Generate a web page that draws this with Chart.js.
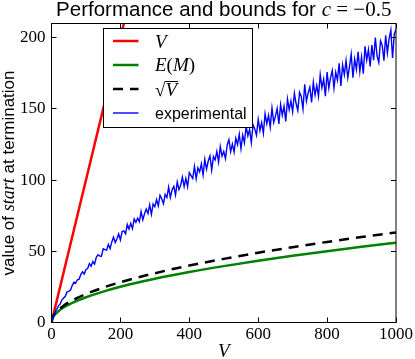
<!DOCTYPE html>
<html><head><meta charset="utf-8">
<script src="https://cdn.jsdelivr.net/npm/chart.js@4"></script>
<style>html,body{margin:0;padding:0;background:#fff}canvas{display:block}</style>
</head><body>
<canvas id="c" width="415" height="359"></canvas>
<script>
// ---- data ----
const xTicks = [0, 200, 400, 600, 800, 1000];
const yTicks = [0, 50, 100, 150, 200];
const seriesLabels = ["V", "E(M)", "√V", "experimental"];

const vX = [0, 1000];
const vY = [0, 1000];

const emX = [0, 2, 5, 10, 20, 35, 50, 75, 100, 150, 200, 300, 400, 500, 600, 700, 800, 900, 1000];
const emY = [0, 2.5, 4.0, 5.6, 7.9, 10.5, 12.5, 15.3, 17.7, 21.7, 25.1, 30.7, 35.4, 39.6, 43.4, 46.9, 50.1, 53.2, 56.0];

const sqX = [0, 2, 5, 10, 20, 35, 50, 75, 100, 150, 200, 300, 400, 500, 600, 700, 800, 900, 1000];
const sqY = [0, 2.8, 4.5, 6.3, 8.9, 11.8, 14.1, 17.3, 20.0, 24.5, 28.3, 34.6, 40.0, 44.7, 49.0, 52.9, 56.6, 60.0, 63.2];

const expX = [0,5,10,15,20,25,30,35,40,45,50,55,60,65,70,75,80,85,90,95,
100,105,110,115,120,125,130,135,140,145,150,155,160,165,170,175,180,185,190,195,
200,205,210,215,220,225,230,235,240,245,250,255,260,265,270,275,280,285,290,295,
300,305,310,315,320,325,330,335,340,345,350,355,360,365,370,375,380,385,390,395,
400,405,410,415,420,425,430,435,440,445,450,455,460,465,470,475,480,485,490,495,
500,505,510,515,520,525,530,535,540,545,550,555,560,565,570,575,580,585,590,595,
600,605,610,615,620,625,630,635,640,645,650,655,660,665,670,675,680,685,690,695,
700,705,710,715,720,725,730,735,740,745,750,755,760,765,770,775,780,785,790,795,
800,805,810,815,820,825,830,835,840,845,850,855,860,865,870,875,880,885,890,895,
900,905,910,915,920,925,930,935,940,945,950,955,960,965,970,975,980,985,990,995,1000];
const expY = [0, 4.0, 7.1, 9.1, 11.7, 12.9, 15.8, 17.2, 18.4, 21.5,
21.9, 22.7, 25.9, 28.3, 27.7, 30.0, 30.3, 33.7, 35.6, 34.0,
37.3, 37.9, 41.4, 39.5, 42.8, 41.0, 45.8, 47.6, 46.6, 46.5,
51.8, 51.2, 50.8, 54.9, 51.8, 56.6, 59.9, 56.2, 58.8, 62.3,
58.0, 63.9, 64.3, 62.3, 68.9, 65.7, 69.7, 65.9, 72.7, 70.4,
73.2, 70.7, 77.9, 72.1, 76.4, 79.7, 76.6, 82.7, 76.0, 83.3,
81.3, 86.3, 81.9, 89.4, 86.9, 83.4, 90.0, 87.8, 95.1, 87.8,
93.2, 95.6, 89.5, 98.7, 93.5, 96.4, 102.1, 95.5, 101.2, 95.4,
105.2, 103.2, 101.2, 109.6, 101.0, 108.6, 105.7, 111.4, 103.6, 114.6,
107.6, 113.4, 117.0, 107.0, 116.5, 114.2, 120.2, 112.7, 123.5, 116.8,
120.1, 115.1, 124.7, 128.4, 120.0, 125.3, 119.7, 129.5, 124.9, 132.3,
122.0, 131.6, 126.2, 138.0, 131.0, 135.6, 126.3, 138.9, 136.0, 131.5,
142.6, 134.7, 140.4, 132.9, 146.6, 139.6, 145.5, 137.2, 150.6, 140.5,
144.8, 150.3, 139.4, 153.1, 145.6, 151.8, 141.2, 157.0, 149.4, 155.6,
147.9, 161.0, 153.8, 149.0, 161.6, 158.7, 150.0, 167.3, 155.4, 161.3,
165.3, 154.5, 168.8, 159.8, 166.5, 158.7, 174.0, 164.9, 170.9, 159.0,
175.9, 164.6, 172.0, 177.0, 164.6, 175.7, 170.3, 182.1, 166.2, 180.9,
174.0, 183.9, 171.9, 179.7, 188.4, 171.9, 184.9, 177.7, 190.1, 176.2,
186.5, 174.7, 194.0, 184.3, 191.7, 179.8, 194.8, 184.2, 200.1, 187.2,
182.6, 197.8, 194.8, 183.9, 201.7, 189.2, 199.3, 205.5, 185.8, 202.3,
206.0];

// ---- styling ----
const SANS = '"Liberation Sans", Arial, Helvetica, sans-serif';
const SERIF = '"Liberation Serif", "Times New Roman", serif';

function pts(xs, ys) { return xs.map((x, i) => ({ x: x, y: ys[i] })); }

function drawRuns(ctx, runs, x, y, align) {
  let total = 0;
  runs.forEach(r => { ctx.font = r.f; r.w = ctx.measureText(r.t).width; total += r.w; });
  let cx = align === 'center' ? x - total / 2 : x;
  runs.forEach(r => { ctx.font = r.f; r.x = cx; ctx.fillText(r.t, cx, y); cx += r.w; });
  return runs;
}

const decor = {
  id: 'decor',
  afterDatasetsDraw(chart) {
    const ctx = chart.ctx;
    const a = chart.chartArea;
    const sx = chart.scales.x, sy = chart.scales.y;
    ctx.save();
    // frame
    ctx.strokeStyle = '#000';
    ctx.lineWidth = 1;
    ctx.strokeRect(a.left, a.top, a.right - a.left, a.bottom - a.top);
    // inward ticks on all sides
    const TL = 5;
    ctx.beginPath();
    xTicks.forEach(v => {
      const p = Math.round(sx.getPixelForValue(v) - 0.5) + 0.5;
      ctx.moveTo(p, a.bottom); ctx.lineTo(p, a.bottom - TL);
      ctx.moveTo(p, a.top); ctx.lineTo(p, a.top + TL);
    });
    yTicks.forEach(v => {
      const p = Math.round(sy.getPixelForValue(v) - 0.5) + 0.5;
      ctx.moveTo(a.left, p); ctx.lineTo(a.left + TL, p);
      ctx.moveTo(a.right, p); ctx.lineTo(a.right - TL, p);
    });
    ctx.stroke();

    // legend
    const lx = 103.5, ly = 28.5, lw = 149, lh = 99;
    ctx.fillStyle = '#fff';
    ctx.fillRect(lx, ly, lw, lh);
    ctx.strokeStyle = '#000';
    ctx.lineWidth = 1;
    ctx.strokeRect(lx, ly, lw, lh);
    const rowY = [41, 65, 89, 113];
    chart.data.datasets.forEach((ds, i) => {
      const y = rowY[i];
      ctx.save();
      ctx.strokeStyle = ds.borderColor;
      ctx.lineWidth = Math.min(ds.borderWidth, 2.5);
      ctx.setLineDash(ds.borderDash || []);
      ctx.beginPath();
      ctx.moveTo(113, y); ctx.lineTo(138.5, y);
      ctx.stroke();
      ctx.restore();
      ctx.fillStyle = '#000';
      ctx.strokeStyle = '#000';
      ctx.textBaseline = 'alphabetic';
      const it = 'italic 19px ' + SERIF, rm = '19px ' + SERIF;
      const lab = ds.label;
      if (lab === 'V') {
        drawRuns(ctx, [{ t: 'V', f: it }], 155, y + 6.5, 'left');
      } else if (lab === 'E(M)') {
        drawRuns(ctx, [{ t: 'E', f: it }, { t: '(', f: rm }, { t: 'M', f: it }, { t: ')', f: rm }], 155, y + 6, 'left');
      } else if (lab === '√V') {
        const r = drawRuns(ctx, [{ t: '√', f: rm }, { t: 'V', f: it }], 155, y + 7, 'left');
        ctx.beginPath();
        ctx.lineWidth = 1;
        ctx.moveTo(r[1].x - 0.5, y - 7.5); ctx.lineTo(r[1].x + r[1].w + 1, y - 7.5);
        ctx.stroke();
      } else {
        drawRuns(ctx, [{ t: lab, f: '16px ' + SANS }], 155, y + 5.5, 'left');
      }
    });

    // title
    ctx.fillStyle = '#000';
    ctx.textBaseline = 'alphabetic';
    const cx = (a.left + a.right) / 2;
    drawRuns(ctx, [
      { t: 'Performance and bounds for ', f: '20.5px ' + SANS },
      { t: 'c', f: 'italic 21px ' + SERIF },
      { t: ' = −0.5', f: '21px ' + SERIF }
    ], cx, 16, 'center');

    // x label
    drawRuns(ctx, [{ t: 'V', f: 'italic 19px ' + SERIF }], cx, 357, 'center');

    // y label
    ctx.save();
    ctx.translate(14, (a.top + a.bottom) / 2);
    ctx.rotate(-Math.PI / 2);
    drawRuns(ctx, [
      { t: 'value of ', f: '17px ' + SANS },
      { t: 'start', f: 'italic 18px ' + SERIF },
      { t: ' at termination', f: '17px ' + SANS }
    ], 0, 0, 'center');
    ctx.restore();
    ctx.restore();
  }
};

new Chart(document.getElementById('c'), {
  type: 'line',
  data: {
    datasets: [
      { label: seriesLabels[0], data: pts(vX, vY), borderColor: '#ff0000', borderWidth: 2.5, pointRadius: 0, order: 4 },
      { label: seriesLabels[1], data: pts(emX, emY), borderColor: '#008000', borderWidth: 2.5, pointRadius: 0, cubicInterpolationMode: 'monotone', order: 3 },
      { label: seriesLabels[2], data: pts(sqX, sqY), borderColor: '#000000', borderWidth: 2.5, borderDash: [10, 7], pointRadius: 0, cubicInterpolationMode: 'monotone', order: 2 },
      { label: seriesLabels[3], data: pts(expX, expY), borderColor: '#0000ff', borderWidth: 1.4, pointRadius: 0, order: 1 }
    ]
  },
  options: {
    responsive: false,
    animation: false,
    devicePixelRatio: 1,
    layout: { padding: { top: 23.5, right: 16.5, left: 0, bottom: 0 } },
    plugins: { legend: { display: false }, title: { display: false }, tooltip: { enabled: false } },
    scales: {
      x: {
        type: 'linear', min: 0, max: 1000,
        afterFit(s) { s.height = 36.5; },
        afterBuildTicks(s) { s.ticks = xTicks.map(v => ({ value: v })); },
        grid: { display: false, drawTicks: false },
        border: { display: false },
        ticks: { color: '#000', font: { family: SERIF, size: 17 }, padding: 2, maxRotation: 0, includeBounds: false,
                 callback: v => String(v) }
      },
      y: {
        type: 'linear', min: 0, max: 210,
        afterFit(s) { s.width = 51.5; },
        afterBuildTicks(s) { s.ticks = yTicks.map(v => ({ value: v })); },
        grid: { display: false, drawTicks: false },
        border: { display: false },
        ticks: { color: '#000', font: { family: SERIF, size: 17 }, padding: 6, includeBounds: false,
                 callback: v => String(v) }
      }
    }
  },
  plugins: [decor]
});
</script>
</body></html>
